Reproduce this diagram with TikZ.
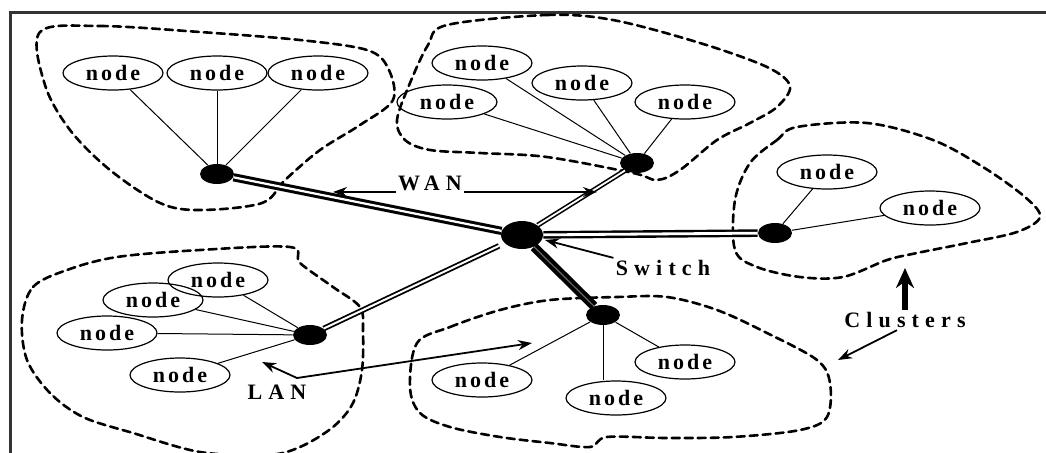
\documentclass[tikz,border=0pt]{standalone}
\usepackage{fontspec}
\setmainfont{Liberation Serif}
\newfontfamily\pcfont{Liberation Serif}[LetterSpace=14]
\newfontfamily\tagfont{Liberation Serif}[LetterSpace=28]
\usetikzlibrary{shapes.geometric}
\usetikzlibrary{arrows.meta}

\begin{document}
\begin{tikzpicture}[x=0.5pt, y=-0.5pt,
    pc/.style={draw, ellipse, line width=0.6pt, minimum width=50pt, minimum height=17pt, inner sep=0pt,
      font=\pcfont\bfseries\fontsize{11}{13}\selectfont},
    hub/.style={ellipse, fill=black, minimum width=17pt, minimum height=10pt, inner sep=0pt},
    tag/.style={font=\tagfont\bfseries\fontsize{11}{13}\selectfont, inner sep=1pt},
    link/.style={line width=0.5pt},
    trunk/.style={draw, double=white, double distance=1pt, line width=1pt},
    grp/.style={line width=1.3pt, dash pattern=on 4pt off 2.5pt, line cap=round},
    pointer/.style={-{Stealth[length=7pt, width=5pt]}, line width=0.9pt}]
  \useasboundingbox (0,0) rectangle (1046,452);

  % Marco
  \draw[line width=1.5pt, black!80] (1046,12) -- (10,12) -- (10,460);

  % Clusters
  \draw[grp] plot[smooth cycle, tension=0.55] coordinates {(40,32) (100,26) (200,32) (300,40) (367,50)
    (388,68) (393,100) (360,125) (320,150) (285,180) (262,203) (200,210) (160,203) (110,170) (70,130) (45,85)};
  \draw[grp] plot[smooth cycle, tension=0.55] coordinates {(447,25) (547,15) (613,20) (700,43) (767,67)
    (790,86) (777,107) (750,123) (717,140) (680,170) (657,180) (633,173) (547,157) (480,153)
    (430,150) (405,140) (397,120) (410,83) (428,45)};
  \draw[grp] plot[smooth cycle, tension=0.55] coordinates {(750,163) (777,140) (797,127) (867,123)
    (933,140) (983,167) (1025,197) (1040,217) (1017,232) (967,243) (917,253) (887,260) (843,277)
    (800,277) (757,267) (735,250) (735,200)};
  \draw[grp] plot[smooth cycle, tension=0.55] coordinates {(22,320) (33,287) (67,270) (117,257)
    (200,250) (290,247) (300,263) (333,287) (360,307) (363,330) (362,370) (353,403) (333,427)
    (300,447) (267,455) (200,452) (133,433) (83,417) (50,393) (27,360)};
  \draw[grp] plot[smooth cycle, tension=0.55] coordinates {(417,343) (450,327) (500,310) (550,300)
    (617,297) (667,297) (717,310) (767,333) (817,360) (830,383) (827,417) (800,430) (733,437)
    (667,438) (607,437) (590,447) (550,443) (500,437) (450,427) (420,413) (410,387)};

  % Nodos
  \node[hub, minimum width=21pt, minimum height=14pt] (sw) at (522,235) {};
  \node[hub] (h1) at (217,174) {};
  \node[hub] (h2) at (637,163) {};
  \node[hub] (h3) at (775,233) {};
  \node[hub] (h4) at (310,335) {};
  \node[hub] (h5) at (603,315) {};

  \node[pc] (n11) at (113,73) {node};
  \node[pc] (n12) at (217,73) {node};
  \node[pc] (n13) at (318,73) {node};
  \node[pc] (n21) at (482,63) {node};
  \node[pc] (n22) at (582,83) {node};
  \node[pc] (n23) at (685,102) {node};
  \node[pc] (n24) at (447,102) {node};
  \node[pc] (n31) at (827,172) {node};
  \node[pc] (n32) at (930,208) {node};
  \node[pc] (n41) at (218,280) {node};
  \node[pc] (n42) at (153,300) {node};
  \node[pc] (n43) at (107,333) {node};
  \node[pc] (n44) at (180,375) {node};
  \node[pc] (n51) at (482,380) {node};
  \node[pc] (n52) at (616,398) {node};
  \node[pc] (n53) at (685,362) {node};

  \node[tag] (wan) at (430,183) {WAN};
  \node[tag] (switch) at (663,268) {Switch};
  \node[tag] (clusters) at (905,320) {Clusters};
  \node[tag] (lan) at (277,392) {LAN};

  \coordinate (wanL) at (333,192);
  \coordinate (wanR) at (597,192);
  \coordinate (swtip) at (545,240);
  \coordinate (upTip) at (905,268);
  \coordinate (dnTip) at (838,360);
  \coordinate (lanL) at (262,362);
  \coordinate (lanK) at (297,378);
  \coordinate (lanR) at (532,343);

  % Aristas
  \draw[link] (n11) -- (h1);
  \draw[link] (n12) -- (h1);
  \draw[link] (n13) -- (h1);
  \draw[link] (n21) -- (h2);
  \draw[link] (n22) -- (h2);
  \draw[link] (n23) -- (h2);
  \draw[link] (n24) -- (h2);
  \draw[link] (n31) -- (h3);
  \draw[link] (n32) -- (h3);
  \draw[link] (n41) -- (h4);
  \draw[link] (n42) -- (h4);
  \draw[link] (n43) -- (h4);
  \draw[link] (n44) -- (h4);
  \draw[link] (n51) -- (h5);
  \draw[link] (h5) -- (h5 |- n52.north);
  \draw[link] (n53) -- (h5);

  \draw[trunk, line width=1.5pt, double distance=1.1pt] (h1) -- (sw);
  \draw[trunk, line width=0.8pt, double distance=0.9pt] (sw) -- (h2);
  \draw[trunk, line width=1.2pt, double distance=1.4pt] (sw) -- (h3);
  \draw[trunk, line width=0.9pt, double distance=1pt, shorten <=3pt] (sw) -- (h4);
  \draw[trunk, line width=2pt, double=black!60, double distance=0.6pt] (sw) -- (h5);

  \draw[pointer] (wan.west |- wanL) -- (wanL);
  \draw[pointer] (wan.east |- wanR) -- (wanR);
  \draw[pointer] (switch.north west) -- (swtip);
  \draw[pointer, line width=3pt, -{Stealth[length=10pt, width=9pt]}] (clusters.north) -- (upTip);
  \draw[pointer] ([xshift=-4pt]clusters.south) -- (dnTip);
  \draw[pointer, {Stealth[length=7pt, width=5pt]}-{Stealth[length=7pt, width=5pt]}] (lanL) -- (lanK) -- (lanR);
\end{tikzpicture}
\end{document}
